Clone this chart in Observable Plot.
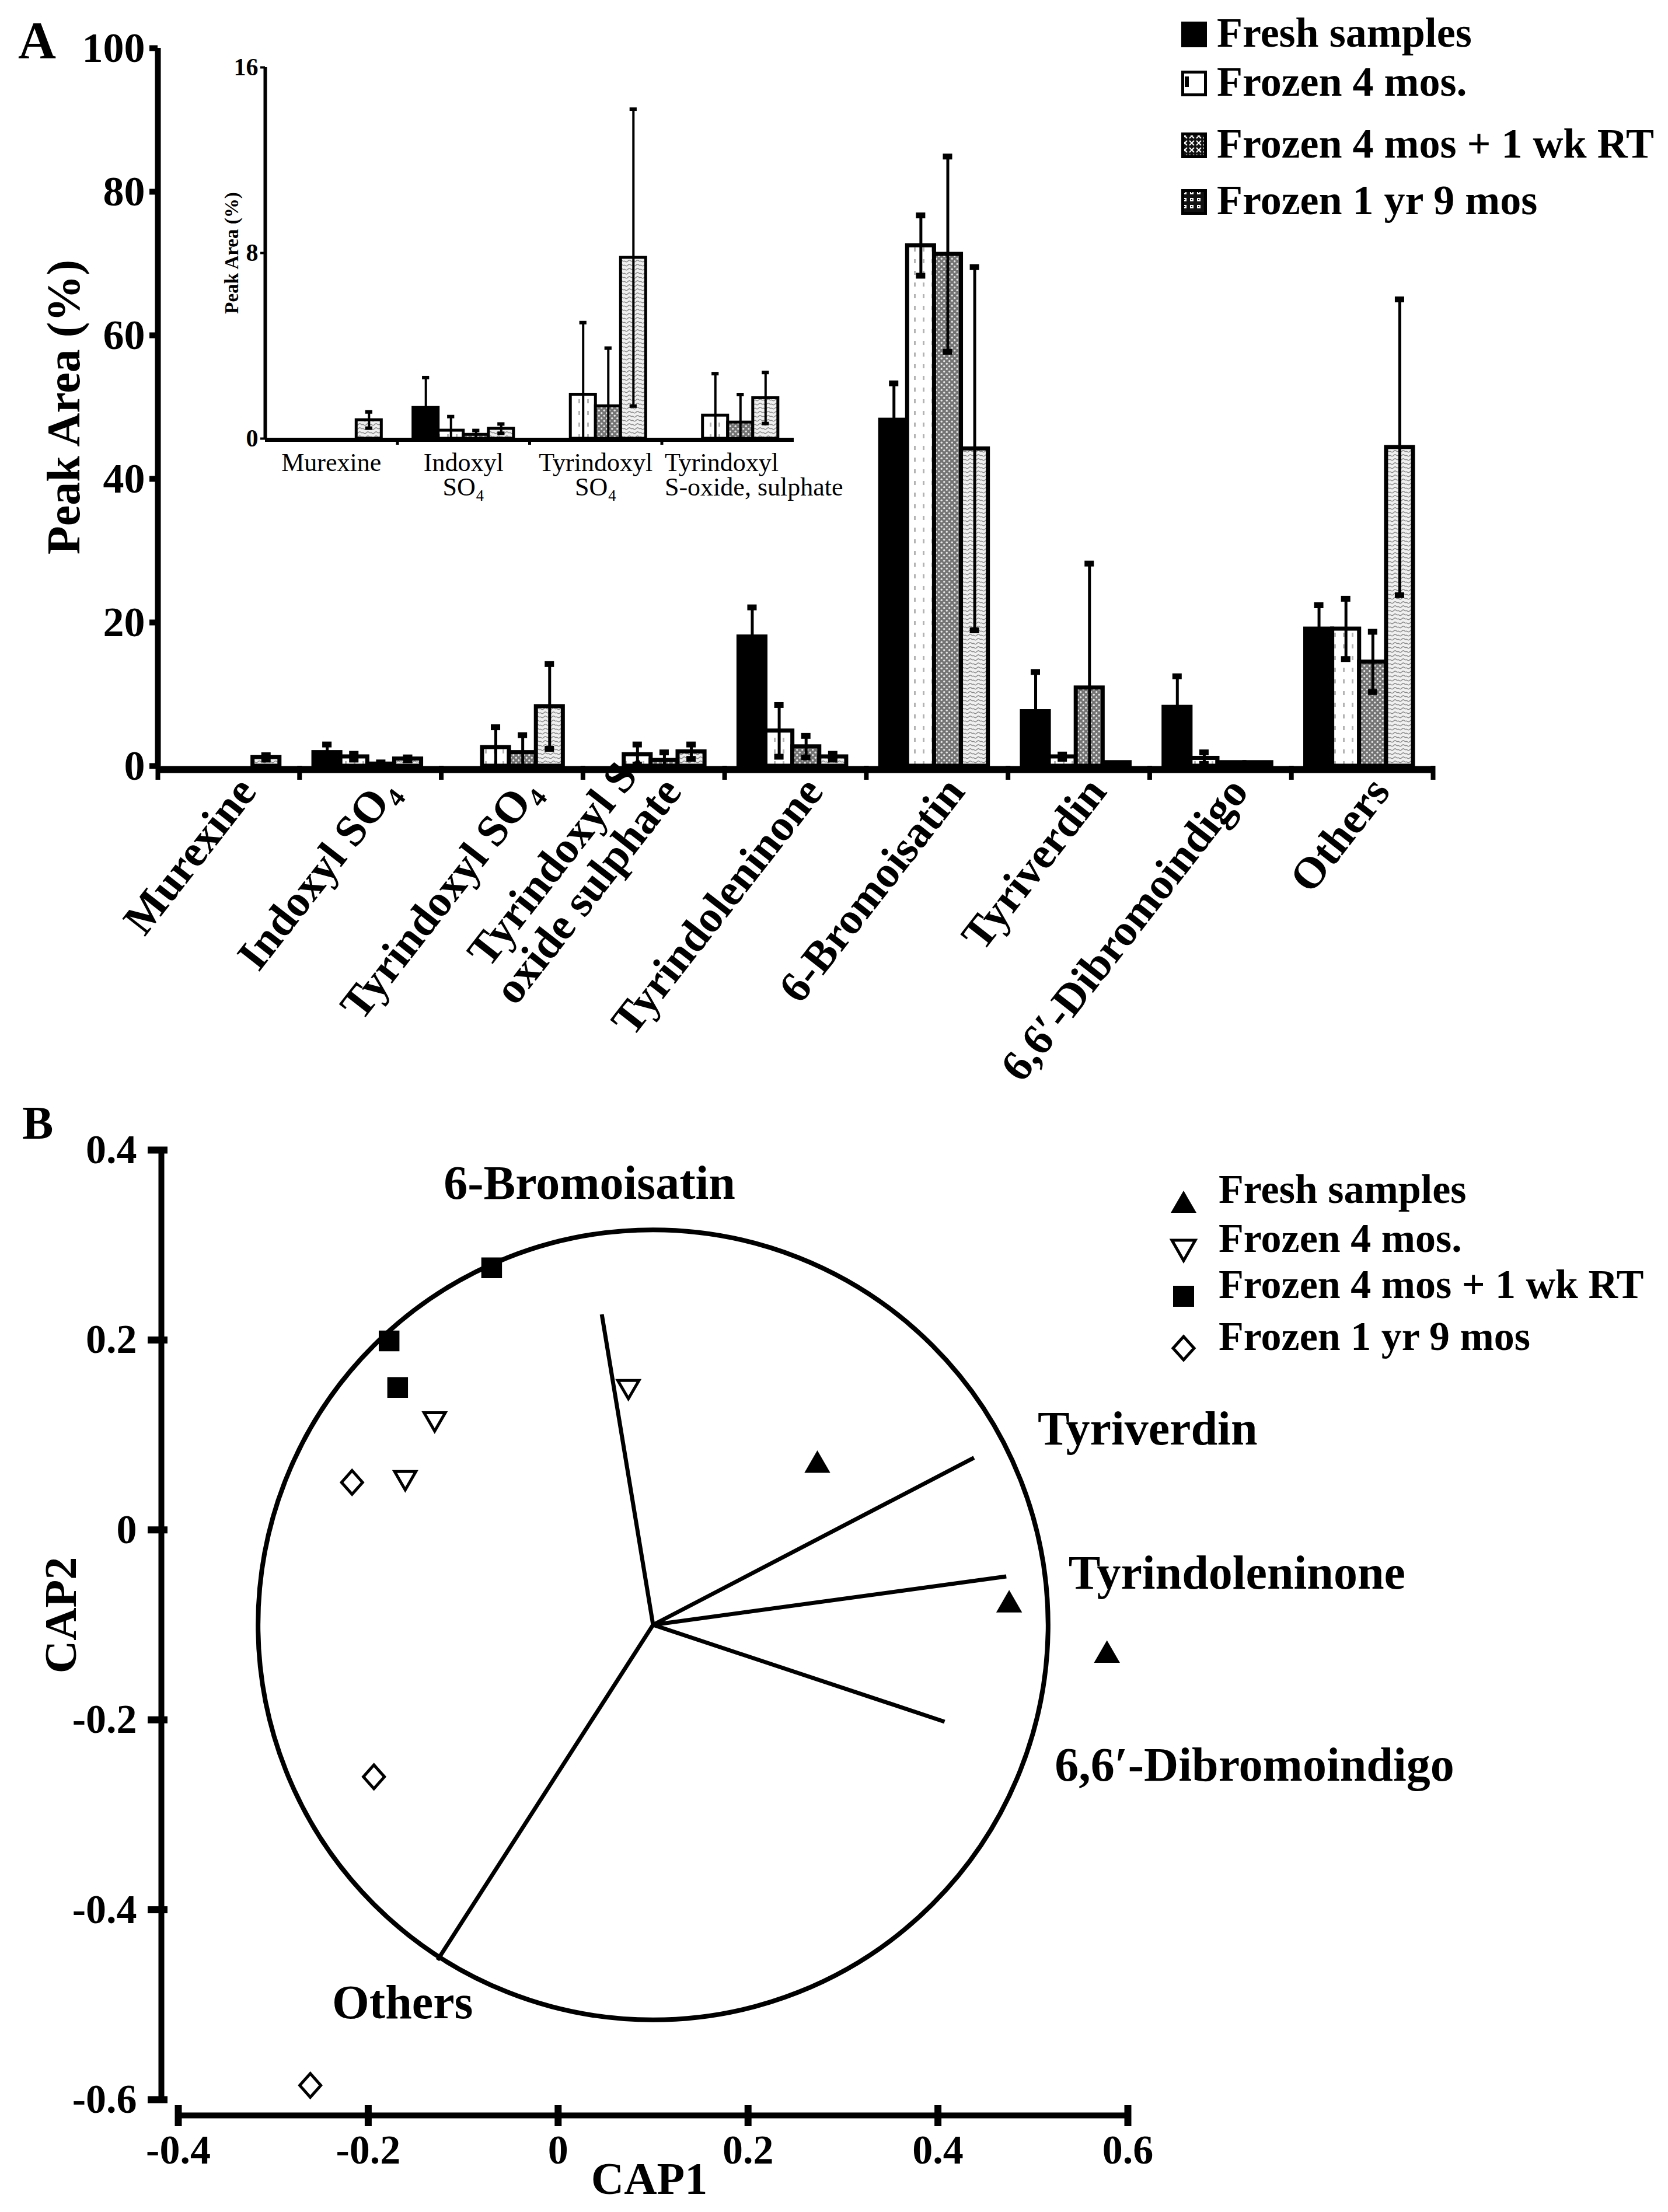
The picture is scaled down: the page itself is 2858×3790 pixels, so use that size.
<!DOCTYPE html>
<html>
<head>
<meta charset="utf-8">
<script src="https://cdn.jsdelivr.net/npm/d3@7"></script>
<script src="https://cdn.jsdelivr.net/npm/@observablehq/plot@0.6"></script>
<style>
html,body{margin:0;padding:0;background:#fff;}
#fig{position:relative;width:2858px;height:3790px;overflow:hidden;background:#fff;font-family:"Liberation Serif","Times New Roman",serif;color:#000;}
.plab{position:absolute;font-weight:bold;line-height:1;white-space:nowrap;}
</style>
</head>
<body>
<svg width="0" height="0" style="position:absolute;left:0;top:0">
 <defs>
  <pattern id="pF4" patternUnits="userSpaceOnUse" width="15" height="20">
   <rect width="15" height="20" fill="#ffffff"/>
   <rect x="6" y="4" width="3" height="7" fill="#b4b4b4"/>
  </pattern>
  <pattern id="pRT" patternUnits="userSpaceOnUse" width="9" height="9">
   <rect width="9" height="9" fill="#747474"/>
   <circle cx="2.25" cy="2.25" r="1.7" fill="#e6e6e6"/>
   <circle cx="6.75" cy="6.75" r="1.7" fill="#e6e6e6"/>
  </pattern>
  <pattern id="pY9" patternUnits="userSpaceOnUse" width="14" height="14">
   <rect width="14" height="14" fill="#f0f0f0"/>
   <path d="M0,4 C3.5,1 3.5,7 7,4 S10.5,1 14,4" fill="none" stroke="#8a8a8a" stroke-width="1.6"/>
   <path d="M0,11 C3.5,8 3.5,14 7,11 S10.5,8 14,11" fill="none" stroke="#8a8a8a" stroke-width="1.6"/>
  </pattern>
  <pattern id="pF4L" patternUnits="userSpaceOnUse" width="39" height="39">
   <rect width="39" height="39" fill="#ffffff"/>
   <rect x="6" y="10" width="7" height="18" fill="#000"/>
  </pattern>
  <pattern id="pRTL" patternUnits="userSpaceOnUse" width="12" height="12">
   <rect width="12" height="12" fill="#111"/>
   <path d="M2,2 L10,10 M10,2 L2,10" stroke="#fff" stroke-width="2"/>
  </pattern>
  <pattern id="pY9L" patternUnits="userSpaceOnUse" width="12" height="12">
   <rect width="12" height="12" fill="#111"/>
   <rect x="3" y="3" width="6" height="6" fill="#fff"/>
   <rect x="5" y="5" width="2" height="2" fill="#111"/>
  </pattern>
 </defs>
</svg>
<div id="fig"></div>
<script>
// ---------------- DATA: panel A (main bars) ----------------
const categories = ["Murexine", "Indoxyl SO₄", "Tyrindoxyl SO₄", "Tyrindoxyl S-\noxide sulphate",
  "Tyrindoleninone", "6-Bromoisatin", "Tyriverdin", "6,6′-Dibromoindigo", "Others"];
const seriesNames = ["Fresh samples", "Frozen 4 mos.", "Frozen 4 mos + 1 wk RT", "Frozen 1 yr 9 mos"];
const freshPct     = [0,   1.9, 0,   0,   18.0, 48.2, 7.6,  8.2, 19.1];
const frozen4Pct   = [0,   1.3, 2.6, 1.6, 4.9,  72.5, 1.3,  1.1, 19.1];
const frozenRTPct  = [0,   0.3, 1.9, 0.8, 2.7,  71.3, 10.9, 0.5, 14.5];
const frozen1y9Pct = [1.2, 1.0, 8.3, 2.0, 1.3,  44.2, 0.5,  0.5, 44.4];
const freshSD      = [0,   1.1, 0,   0,   4.1,  5.1,  5.5,  4.3, 3.3];
const frozen4SD    = [0,   0.4, 2.8, 1.4, 3.6,  4.2,  0.3,  0.8, 4.2];
const frozenRTSD   = [0,   0.2, 2.4, 1.1, 1.5,  13.6, 17.3, 0,   4.2];
const frozen1y9SD  = [0.3, 0.2, 5.9, 1.0, 0.4,  25.3, 0,    0,   20.6];
const yTicksA = [0, 20, 40, 60, 80, 100];

// ---------------- DATA: panel A inset ----------------
const insetCategories = ["Murexine", "Indoxyl\nSO₄", "Tyrindoxyl\nSO₄", "Tyrindoxyl\nS-oxide, sulphate"];
const insetFresh     = [0,    1.33, 0,   0];
const insetFrozen4   = [0,    0.35, 1.9, 1.0];
const insetFrozenRT  = [0,    0.17, 1.4, 0.7];
const insetFrozen1y9 = [0.8,  0.43, 7.8, 1.75];
const insetFreshSD     = [0,    1.3,  0,   0];
const insetFrozen4SD   = [0,    0.6,  3.1, 1.8];
const insetFrozenRTSD  = [0,    0.18, 2.5, 1.2];
const insetFrozen1y9SD = [0.35, 0.2,  6.4, 1.1];
const yTicksInset = [0, 8, 16];

// ---------------- DATA: panel B (CAP ordination) ----------------
const freshCAP1     = [0.273, 0.475, 0.578];
const freshCAP2     = [0.068, -0.079, -0.132];
const frozen4CAP1   = [0.074, -0.130, -0.161];
const frozen4CAP2   = [0.151, 0.117, 0.055];
const frozenRTCAP1  = [-0.070, -0.178, -0.169];
const frozenRTCAP2  = [0.276, 0.199, 0.150];
const frozen1y9CAP1 = [-0.217, -0.194, -0.261];
const frozen1y9CAP2 = [0.050, -0.260, -0.585];
const vectorNames = ["6-Bromoisatin", "Tyriverdin", "Tyrindoleninone", "6,6′-Dibromoindigo", "Others"];
const vectorCAP1 = [0.046, 0.438, 0.472, 0.407, -0.127];
const vectorCAP2 = [0.227, 0.076, -0.049, -0.202, -0.453];
const vectorOrigin = [0.1, -0.1];
const circleRadius = 0.416;
const vectorLabelCAP1 = [-0.1205, 0.505, 0.5375, 0.523, -0.238];
const vectorLabelCAP2 = [0.365, 0.106, -0.0455, -0.248, -0.498];
const xTicksB = [-0.4, -0.2, 0, 0.2, 0.4, 0.6];
const yTicksB = [-0.6, -0.4, -0.2, 0, 0.2, 0.4];

// ---------------- helpers ----------------
const fig = document.getElementById("fig");
function put(node, left, top) {
  node.style.position = "absolute";
  node.style.left = left + "px";
  node.style.top = top + "px";
  fig.appendChild(node);
  return node;
}
const FONT = "'Liberation Serif', 'Times New Roman', serif";
const baseStyle = {fontFamily: FONT, background: "transparent", color: "#000", overflow: "visible"};
const seriesFill = ["#000", "url(#pF4)", "url(#pRT)", "url(#pY9)"];
const legendFill = ["#000", "url(#pF4L)", "url(#pRTL)", "url(#pY9L)"];

function barRows(cats, values, sds, start, w) {
  const rows = [];
  cats.forEach((c, ci) => values.forEach((vals, si) => {
    const x1 = ci + start + si * w;
    rows.push({ci, si, v: vals[ci], e: sds[si][ci], x1, x2: x1 + w, xc: x1 + w / 2});
  }));
  return rows;
}
function barMarks(rows, o) {
  const errs = rows.filter(d => d.e > 0);
  return [
    ...seriesFill.map((f, si) => Plot.rect(rows.filter(d => d.si === si && d.v > 0),
      {x1: "x1", x2: "x2", y1: 0, y2: "v", fill: f, stroke: "#000", strokeWidth: o.barStroke})),
    Plot.ruleX(errs, {x: "xc", y1: d => Math.max(0, d.v - d.e), y2: d => d.v + d.e, stroke: "#000", strokeWidth: o.errStroke}),
    Plot.ruleY(errs, {y: d => d.v + d.e, x1: d => d.xc - o.capHalf, x2: d => d.xc + o.capHalf, stroke: "#000", strokeWidth: o.capStroke}),
    Plot.ruleY(errs.filter(d => d.v - d.e > 0), {y: d => d.v - d.e, x1: d => d.xc - o.capHalf, x2: d => d.xc + o.capHalf, stroke: "#000", strokeWidth: o.capStroke})
  ];
}

// ---------------- Panel A main ----------------
const rowsA = barRows(categories, [freshPct, frozen4Pct, frozenRTPct, frozen1y9Pct],
  [freshSD, frozen4SD, frozenRTSD, frozen1y9SD], 0.1, 0.19);
const plotA = Plot.plot({
  width: 2858, height: 1900,
  marginLeft: 270, marginRight: 403, marginTop: 82, marginBottom: 588,
  x: {domain: [0, categories.length]},
  y: {domain: [0, 100]},
  style: baseStyle,
  marks: [
    ...barMarks(rowsA, {barStroke: 7, errStroke: 5, capHalf: 0.033, capStroke: 10}),
    Plot.ruleX([0], {y1: 0, y2: 100, strokeWidth: 10}),
    Plot.axisY(yTicksA, {anchor: "left", tickSize: 14, tickPadding: 8, strokeWidth: 10, fontSize: 72, fontWeight: "bold", label: null}),
    Plot.ruleY([0], {strokeWidth: 12, dy: 6}),
    Plot.axisX(d3.range(categories.length + 1), {anchor: "bottom", tickSize: 24, strokeWidth: 8, tickFormat: () => "", label: null}),
    Plot.text(categories, {x: (d, i) => i + 0.5, frameAnchor: "bottom", text: d => d, rotate: -52,
      textAnchor: "end", lineAnchor: "bottom", dx: 50, dy: 45, fontSize: 76, fontWeight: "bold", lineHeight: 1}),
    Plot.text(["Peak Area (%)"], {frameAnchor: "left", text: d => d, rotate: -90, textAnchor: "middle", lineAnchor: "middle",
      dx: -160, fontSize: 80, fontWeight: "bold"})
  ]
});
put(plotA, 0, 0);

// ---------------- Panel A inset ----------------
const rowsI = barRows(insetCategories, [insetFresh, insetFrozen4, insetFrozenRT, insetFrozen1y9],
  [insetFreshSD, insetFrozen4SD, insetFrozenRTSD, insetFrozen1y9SD], 0.12, 0.19);
const plotI = Plot.plot({
  width: 1200, height: 800,
  marginLeft: 114, marginRight: 180, marginTop: 35, marginBottom: 129,
  x: {domain: [0, insetCategories.length]},
  y: {domain: [0, 16]},
  style: baseStyle,
  marks: [
    ...barMarks(rowsI, {barStroke: 5, errStroke: 4, capHalf: 0.027, capStroke: 6}),
    Plot.ruleX([0], {y1: 0, y2: 16, strokeWidth: 6}),
    Plot.axisY(yTicksInset, {anchor: "left", tickSize: 8, tickPadding: 4, strokeWidth: 4, fontSize: 42, fontWeight: "bold", label: null}),
    Plot.ruleY([0], {strokeWidth: 7, dy: 2}),
    Plot.axisX([1, 2, 3], {anchor: "bottom", tickSize: 11, strokeWidth: 5, tickFormat: () => "", label: null}),
    Plot.text(insetCategories.slice(0, 3), {x: (d, i) => i + 0.5, frameAnchor: "bottom", text: d => d,
      textAnchor: "middle", lineAnchor: "top", dy: 25, fontSize: 44, lineHeight: 0.97}),
    Plot.text(insetCategories.slice(3), {x: () => 3, frameAnchor: "bottom", text: d => d, textAnchor: "start",
      lineAnchor: "top", dy: 25, dx: 5, fontSize: 44, lineHeight: 0.97}),
    Plot.text(["Peak Area (%)"], {frameAnchor: "left", text: d => d, rotate: -90, textAnchor: "middle", lineAnchor: "middle",
      dx: -57, fontSize: 33, fontWeight: "bold"})
  ]
});
put(plotI, 340, 80);

// ---------------- Panel B ----------------
const pxB = 1627;                    // pixels per CAP unit (equal aspect)
const xMinB = -0.4 - 29 / pxB;       // y axis line offset left of -0.4
const yMinB = -0.6 - 27 / pxB;       // x axis line offset below -0.6
const triDown = {draw(ctx, size) {
  const y = Math.sqrt(size / (3 * Math.sqrt(3)));
  ctx.moveTo(0, 2 * y); ctx.lineTo(Math.sqrt(3) * y, -y); ctx.lineTo(-Math.sqrt(3) * y, -y); ctx.closePath();
}};
const diamondOpen = {draw(ctx, size) {
  const s = Math.sqrt(size), w = s * 0.55, h = s * 0.62;
  ctx.moveTo(0, -h); ctx.lineTo(w, 0); ctx.lineTo(0, h); ctx.lineTo(-w, 0); ctx.closePath();
}};
const groupsB = [
  {c1: freshCAP1, c2: freshCAP2, symbol: "triangle", fill: "#000", stroke: "none", r: 16.5, sw: 0},
  {c1: frozen4CAP1, c2: frozen4CAP2, symbol: triDown, fill: "#fff", stroke: "#000", r: 13.5, sw: 5},
  {c1: frozenRTCAP1, c2: frozenRTCAP2, symbol: "square", fill: "#000", stroke: "none", r: 20, sw: 0},
  {c1: frozen1y9CAP1, c2: frozen1y9CAP2, symbol: diamondOpen, fill: "#fff", stroke: "#000", r: 18.5, sw: 5}
];
const frameWB = 2858 - 276 - 926;
const plotB = Plot.plot({
  width: 2858, height: 1890,
  marginLeft: 276, marginRight: 926, marginTop: 70, marginBottom: 166,
  x: {domain: [xMinB, 0.6]},
  y: {domain: [yMinB, 0.4]},
  style: baseStyle,
  marks: [
    Plot.ruleX([xMinB], {y1: -0.6, y2: 0.4, strokeWidth: 10}),
    Plot.ruleY([yMinB], {x1: -0.4, x2: 0.6, strokeWidth: 10}),
    Plot.axisY(yTicksB, {anchor: "left", tickSize: 23, tickPadding: 19, strokeWidth: 12, fontSize: 70, fontWeight: "bold", tickFormat: d => String(d), label: null}),
    Plot.ruleY(yTicksB, {x1: xMinB, x2: xMinB + 11 / pxB, strokeWidth: 12}),
    Plot.axisX(xTicksB, {anchor: "bottom", tickSize: 19, tickPadding: 14, strokeWidth: 12, fontSize: 70, fontWeight: "bold", tickFormat: d => String(d), label: null}),
    Plot.ruleX(xTicksB, {y1: yMinB, y2: yMinB + 17 / pxB, strokeWidth: 12}),
    Plot.dot([vectorOrigin], {x: d => d[0], y: d => d[1], r: circleRadius * frameWB / (0.6 - xMinB), stroke: "#000", strokeWidth: 8, fill: "none"}),
    Plot.link(vectorNames, {x1: () => vectorOrigin[0], y1: () => vectorOrigin[1], x2: (d, i) => vectorCAP1[i], y2: (d, i) => vectorCAP2[i], stroke: "#000", strokeWidth: 7}),
    ...groupsB.map(g => Plot.dot(g.c1, {x: d => d, y: (d, i) => g.c2[i], symbol: g.symbol, r: g.r, fill: g.fill, stroke: g.stroke, strokeWidth: g.sw})),
    Plot.text(vectorNames, {x: (d, i) => vectorLabelCAP1[i], y: (d, i) => vectorLabelCAP2[i], text: d => d, textAnchor: "start", fontSize: 82, fontWeight: "bold"}),
    Plot.text(["CAP1"], {frameAnchor: "bottom", text: d => d, textAnchor: "middle", lineAnchor: "middle", dx: 8, dy: 110, fontSize: 78, fontWeight: "bold"}),
    Plot.text(["CAP2"], {frameAnchor: "left", text: d => d, rotate: -90, textAnchor: "middle", lineAnchor: "middle", dx: -171, dy: -30, fontSize: 78, fontWeight: "bold"})
  ]
});
put(plotB, 0, 1900);

// ---------------- Legends & panel letters ----------------
const legendABaselines = [80, 164, 270, 367];
seriesNames.forEach((name, i) => {
  const row = document.createElement("div");
  row.className = "plab";
  row.style.fontSize = "72px";
  row.innerHTML = `<svg width="44" height="44" style="position:absolute;left:0;top:17px"><rect x="2.5" y="2.5" width="39" height="39" fill="${legendFill[i]}" stroke="#000" stroke-width="5"/></svg><span style="position:absolute;left:61px;top:0">${name}</span>`;
  put(row, 2024, legendABaselines[i] - 60);
});

const legendBBaselines = [2062, 2146, 2225, 2314];
const legendBSymbols = [
  `<path d="M25,7 L47,45 L3,45 Z" fill="#000"/>`,
  `<path d="M5,8 L45,8 L25,43 Z" fill="#fff" stroke="#000" stroke-width="5"/>`,
  `<rect x="7" y="7" width="36" height="36" fill="#000"/>`,
  `<path d="M25,5 L43,25 L25,45 L7,25 Z" fill="#fff" stroke="#000" stroke-width="5"/>`
];
seriesNames.forEach((name, i) => {
  const row = document.createElement("div");
  row.className = "plab";
  row.style.fontSize = "70px";
  row.innerHTML = `<svg width="50" height="50" style="position:absolute;left:0;top:${58.6 - 4 - 25}px">${legendBSymbols[i]}</svg><span style="position:absolute;left:85px;top:0">${name}</span>`;
  put(row, 2003, legendBBaselines[i] - 58.6);
});

const letterA = document.createElement("div");
letterA.className = "plab"; letterA.style.fontSize = "90px"; letterA.textContent = "A";
put(letterA, 31, 25);
const letterB = document.createElement("div");
letterB.className = "plab"; letterB.style.fontSize = "80px"; letterB.textContent = "B";
put(letterB, 38, 1884);
</script>
</body>
</html>
